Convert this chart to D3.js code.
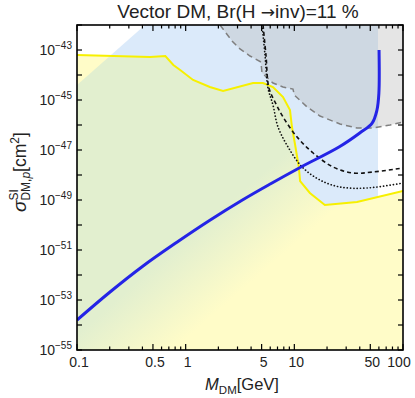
<!DOCTYPE html>
<html>
<head>
<meta charset="utf-8">
<script src="https://cdn.jsdelivr.net/npm/d3@7"></script>
<style>
  body { margin: 0; background: #fff; }
  text { font-family: "Liberation Sans", Arial, sans-serif; fill: #222; }
</style>
</head>
<body>
<div id="chart"></div>
<script>
// M_DM in GeV, sigma in cm^2

// thick blue line (model prediction)
var relicLine = [
  [0.1, 1.58e-54], [0.2, 2.04e-53], [0.4, 2.19e-52], [0.83, 2.04e-51],
  [1.67, 1.55e-50], [3.3, 9.8e-50], [6.0, 4.37e-49], [11.3, 2.0e-48],
  [26, 1.35e-47], [40, 4.79e-47], [52, 1.2e-46], [57.6, 3.98e-46],
  [60, 1.91e-45], [60.2, 1.0e-43]
];

// yellow boundary of the yellow scan points
var yellowLine = [
  [0.1, 6.31e-44], [0.47, 5.25e-44], [0.65, 5.75e-44], [0.77, 2.51e-44],
  [0.89, 1.58e-44], [1.17, 6.31e-45], [1.67, 3.31e-45], [2.21, 2.29e-45],
  [4.17, 4.79e-45], [5.15, 4.79e-45], [6.36, 3.31e-45], [7.87, 1.32e-45],
  [9.12, 3.98e-46], [9.51, 8.32e-47], [10.1, 1.91e-47], [11.0, 2.09e-48],
  [11.3, 5.75e-49], [13.9, 1.91e-49], [19.1, 6.31e-50], [37.7, 8.32e-50],
  [100, 2.29e-49]
];

// gray excluded region, dashed boundary
var grayLine = [
  [2.07, 1e-42], [2.35, 4.79e-43], [2.67, 2.29e-43], [3.16, 1.1e-43],
  [3.91, 5.75e-44], [4.93, 3.31e-44], [5.04, 1.2e-44], [6.36, 4.79e-45],
  [7.87, 3.31e-45], [9.72, 2.75e-45], [10.0, 1.58e-45], [13.1, 5.25e-46],
  [17.2, 2.29e-46], [26.3, 1.1e-46], [37.7, 7.59e-47], [53, 7.59e-47],
  [75.9, 1e-46], [100, 1.32e-46]
];

// black dotted limit
var dottedLine = [
  [5.04, 1e-42], [5.37, 6.31e-44], [5.72, 3.02e-45], [6.36, 6.31e-46],
  [7.08, 8.32e-47], [8.75, 1.32e-47], [11.8, 2.09e-48], [17.2, 6.31e-49],
  [26.3, 3.31e-49], [46.6, 3.02e-49], [100, 4.79e-49]
];

// black dashed limit
var dashedLine = [
  [5.15, 1e-42], [5.48, 6.31e-44], [5.84, 3.02e-45], [6.64, 8.32e-46],
  [7.87, 2.09e-46], [10.6, 3.31e-47], [14.9, 7.59e-48], [22.7, 2.09e-48],
  [34.7, 1.2e-48], [53, 1.32e-48], [100, 1.91e-48]
];

// extent of the light blue scan points
var blueRegion = [
  [0.1, 3.98e-45], [0.423, 1e-42], [58.9, 1e-42], [58.9, 1e-55], [0.1, 1e-55]
];
// where the blue points thin out (green -> yellow)
var blueFadeEdge = [[0.288, 1e-55], [11.3, 1e-49]];

var xTickLabels = [0.1, 0.5, 1, 5, 10, 50, 100];
var yTickLabels = [-55, -53, -51, -49, -47, -45, -43];

var width = 415, height = 398;
var plotL = 77, plotR = 403, plotT = 25, plotB = 350;

var x = d3.scaleLog().domain([0.1, 100]).range([plotL, plotR]);
var y = d3.scaleLog().domain([1e-55, 1e-42]).range([plotB, plotT]);

var svg = d3.select('#chart').append('svg')
  .attr('width', width)
  .attr('height', height);

var defs = svg.append('defs');
defs.append('clipPath').attr('id', 'plotClip')
  .append('rect')
  .attr('x', plotL).attr('y', plotT)
  .attr('width', plotR - plotL).attr('height', plotB - plotT);

var line = d3.line().x(function(d) { return x(d[0]); }).y(function(d) { return y(d[1]); });
var smooth = d3.line().x(function(d) { return x(d[0]); }).y(function(d) { return y(d[1]); })
  .curve(d3.curveCatmullRom.alpha(0.5));

// yellow area = everything under the yellow line
var yellowArea = yellowLine.concat([[100, 1e-55], [0.1, 1e-55]]);
defs.append('clipPath').attr('id', 'yellowClip')
  .append('path').attr('d', line(yellowArea) + 'Z');

// fade for the green overlap
var fa = [x(blueFadeEdge[0][0]), y(blueFadeEdge[0][1])];
var fb = [x(blueFadeEdge[1][0]), y(blueFadeEdge[1][1])];
var flen = Math.hypot(fb[0] - fa[0], fb[1] - fa[1]);
var nx = -(fb[1] - fa[1]) / flen, ny = (fb[0] - fa[0]) / flen;
var mx = (fa[0] + fb[0]) / 2, my = (fa[1] + fb[1]) / 2;
var grad = defs.append('linearGradient').attr('id', 'greenFade')
  .attr('gradientUnits', 'userSpaceOnUse')
  .attr('x1', mx - 45 * nx).attr('y1', my - 45 * ny)
  .attr('x2', mx + 30 * nx).attr('y2', my + 30 * ny);
grad.append('stop').attr('offset', 0).attr('stop-color', '#e2efcf').attr('stop-opacity', 1);
grad.append('stop').attr('offset', 1).attr('stop-color', '#e2efcf').attr('stop-opacity', 0);

var plot = svg.append('g').attr('clip-path', 'url(#plotClip)');

plot.append('rect')
  .attr('x', plotL).attr('y', plotT)
  .attr('width', plotR - plotL).attr('height', plotB - plotT)
  .attr('fill', '#fff');

plot.append('path')
  .attr('d', line(blueRegion) + 'Z')
  .attr('fill', '#dbeafa');

plot.append('path')
  .attr('d', line(yellowArea) + 'Z')
  .attr('fill', '#fffcc8');

plot.append('g').attr('clip-path', 'url(#yellowClip)')
  .append('path')
  .attr('d', line(blueRegion) + 'Z')
  .attr('fill', 'url(#greenFade)');

// gray excluded region
plot.append('path')
  .attr('d', line(grayLine.concat([[100, 1e-42]])) + 'Z')
  .attr('fill', '#b9b9b9')
  .attr('fill-opacity', 0.37);

plot.append('path')
  .attr('d', line(grayLine))
  .attr('fill', 'none')
  .attr('stroke', '#808080')
  .attr('stroke-width', 1.5)
  .attr('stroke-dasharray', '6,4');

plot.append('path')
  .attr('d', line(yellowLine))
  .attr('fill', 'none')
  .attr('stroke', '#f7f000')
  .attr('stroke-width', 2);

plot.append('path')
  .attr('d', smooth(dottedLine))
  .attr('fill', 'none')
  .attr('stroke', '#111')
  .attr('stroke-width', 1.7)
  .attr('stroke-linecap', 'round')
  .attr('stroke-dasharray', '0.1,3.2');

plot.append('path')
  .attr('d', smooth(dashedLine))
  .attr('fill', 'none')
  .attr('stroke', '#111')
  .attr('stroke-width', 1.6)
  .attr('stroke-dasharray', '4,3');

plot.append('path')
  .attr('d', smooth(relicLine))
  .attr('fill', 'none')
  .attr('stroke', '#2424e6')
  .attr('stroke-width', 3);

// frame + ticks
var axes = svg.append('g');

x.ticks().forEach(function(v) {
  var major = xTickLabels.some(function(t) { return Math.abs(t - v) < 1e-9 * t; });
  var tl = major ? 6 : 3.5;
  var px = x(v);
  axes.append('line').attr('x1', px).attr('x2', px).attr('y1', plotB).attr('y2', plotB - tl)
    .attr('stroke', '#000').attr('stroke-width', 1.2);
  axes.append('line').attr('x1', px).attr('x2', px).attr('y1', plotT).attr('y2', plotT + tl)
    .attr('stroke', '#000').attr('stroke-width', 1.2);
});

d3.range(-55, -41).forEach(function(e) {
  var py = y(Math.pow(10, e));
  axes.append('line').attr('x1', plotL).attr('x2', plotL + 5).attr('y1', py).attr('y2', py)
    .attr('stroke', '#000').attr('stroke-width', 1.2);
  axes.append('line').attr('x1', plotR).attr('x2', plotR - 5).attr('y1', py).attr('y2', py)
    .attr('stroke', '#000').attr('stroke-width', 1.2);
});

axes.append('rect')
  .attr('x', plotL).attr('y', plotT)
  .attr('width', plotR - plotL).attr('height', plotB - plotT)
  .attr('fill', 'none')
  .attr('stroke', '#000')
  .attr('stroke-width', 1.6);

// tick labels
xTickLabels.forEach(function(v) {
  axes.append('text')
    .attr('x', x(v) + (v === 100 ? -4 : 2))
    .attr('y', 367)
    .attr('text-anchor', 'middle')
    .attr('font-size', 14)
    .text(v);
});

yTickLabels.forEach(function(e) {
  var t = axes.append('text')
    .attr('x', 72)
    .attr('y', y(Math.pow(10, e)) + 5)
    .attr('text-anchor', 'end')
    .attr('font-size', 14);
  t.append('tspan').text('10');
  t.append('tspan').attr('dy', -6).attr('font-size', 10).text('\u2212' + Math.abs(e));
});

// title
var title = svg.append('text')
  .attr('x', 238).attr('y', 18)
  .attr('text-anchor', 'middle')
  .attr('font-size', 19);
title.append('tspan').text('Vector DM, Br(H ');
title.append('tspan').attr('font-family', 'DejaVu Sans').attr('font-size', 17).text('\u2192');
title.append('tspan').text('inv)=11 %');

// x axis title
var xt = svg.append('text')
  .attr('x', 242).attr('y', 390)
  .attr('text-anchor', 'middle')
  .attr('font-size', 16.5);
xt.append('tspan').attr('font-style', 'italic').text('M');
xt.append('tspan').attr('font-size', 11.5).attr('dy', 4).text('DM');
xt.append('tspan').attr('dy', -4).text('[GeV]');

// y axis title
var yt = svg.append('text')
  .attr('transform', 'translate(26,172) rotate(-90)')
  .attr('text-anchor', 'middle')
  .attr('font-size', 17.5);
yt.append('tspan').attr('font-style', 'italic').attr('font-size', 19).text('\u03c3');
yt.append('tspan').attr('font-size', 12).attr('dy', -8).text('SI');
yt.append('tspan').attr('font-size', 12).attr('dx', -11.5).attr('dy', 12).text('DM,');
yt.append('tspan').attr('font-size', 12).attr('font-style', 'italic').text('p');
yt.append('tspan').attr('dy', -4).text('[cm');
yt.append('tspan').attr('font-size', 12).attr('dy', -7).text('2');
yt.append('tspan').attr('dy', 7).text(']');
</script>
</body>
</html>
